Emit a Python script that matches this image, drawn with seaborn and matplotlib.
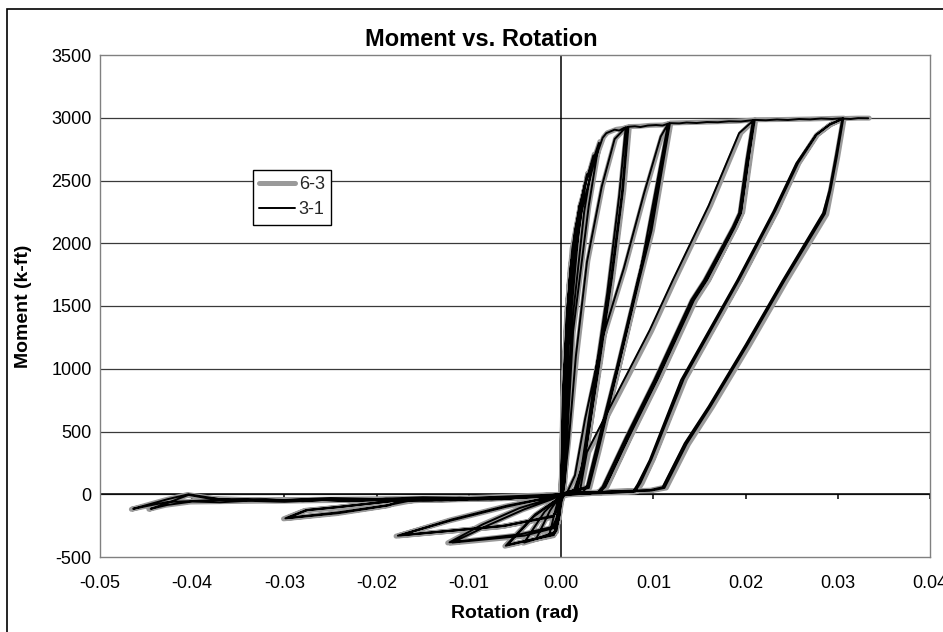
import matplotlib
matplotlib.use("Agg")
import matplotlib.pyplot as plt
from matplotlib.patches import Rectangle
import pandas as pd
import seaborn as sns

# Axis ticks
x_ticks = [-0.05, -0.04, -0.03, -0.02, -0.01, 0.00, 0.01, 0.02, 0.03, 0.04]
y_ticks = [-500, 0, 500, 1000, 1500, 2000, 2500, 3000, 3500]

# Specimen 3-1: (rotation [rad], moment [k-ft]) in loading order
path_3_1 = [
    # elastic cycles
    (0.0000, 0), (0.0002, 600), (0.0005, 1200), (0.0009, 1650), (0.0012, 1900),
    (0.0008, 1500), (0.0003, 700), (0.0000, 50),
    (-0.0002, -150), (-0.0005, -290), (-0.0013, -330), (-0.0006, -120), (-0.0003, -40), (0.0000, 0),
    (0.0002, 700), (0.0006, 1400), (0.0012, 1950), (0.0020, 2300),
    (0.0013, 1800), (0.0005, 900), (0.0001, 100),
    (-0.0002, -170), (-0.0006, -300), (-0.0027, -355), (-0.0012, -130), (-0.0004, -45), (0.0000, 10),
    (0.0002, 800), (0.0007, 1500), (0.0015, 2100), (0.0028, 2550),
    (0.0019, 2100), (0.0008, 1200), (0.0002, 100),
    (-0.0002, -180), (-0.0007, -310), (-0.0040, -385), (-0.0018, -140), (-0.0005, -48), (0.0000, 10),
    (0.0003, 900), (0.0009, 1700), (0.0020, 2300), (0.0035, 2700),
    (0.0025, 2250), (0.0011, 1300), (0.0003, 150),
    (-0.0003, -200), (-0.0008, -320), (-0.0060, -410), (-0.0028, -160), (-0.0006, -50), (0.0001, 10),
    (0.0003, 900), (0.0010, 1800), (0.0025, 2450), (0.0041, 2800),
    (0.0030, 2300), (0.0013, 1300), (0.0004, 100),
    (-0.0003, -210), (-0.0008, -325), (-0.0058, -402), (-0.0030, -180), (-0.0007, -55), (0.0002, 0),
    # first yield level
    (0.0004, 700), (0.0010, 1600), (0.0022, 2250), (0.0036, 2650), (0.0045, 2840), (0.0049, 2877),
    (0.0058, 2905), (0.0063, 2898), (0.0068, 2918), (0.0072, 2925),
    (0.0066, 2400), (0.0054, 1705), (0.0040, 1000), (0.0026, 300), (0.0018, 40),
    (0.0008, 20), (0.0000, -20), (-0.0004, -180), (-0.0008, -270), (-0.0040, -330), (-0.0118, -385),
    (-0.0080, -250), (-0.0040, -120), (-0.0010, -40), (0.0002, 0),
    (0.0008, 400), (0.0016, 1100), (0.0028, 1850), (0.0044, 2450), (0.0058, 2830), (0.0070, 2922),
    (0.0063, 2380), (0.0050, 1600), (0.0036, 900), (0.0022, 200), (0.0014, 30),
    (0.0005, 15), (-0.0001, -30), (-0.0005, -190), (-0.0009, -260), (-0.0045, -320), (-0.0121, -383),
    (-0.0085, -240), (-0.0045, -110), (-0.0012, -35), (0.0004, 5),
    # 0.01 rad level
    (0.0016, 40), (0.0026, 320), (0.0041, 1020), (0.0055, 1720), (0.0067, 2420), (0.0073, 2928),
    (0.0080, 2932), (0.0086, 2926), (0.0094, 2938), (0.0103, 2942), (0.0110, 2938), (0.0117, 2955),
    (0.0096, 2080), (0.0083, 1705), (0.0060, 1000), (0.0036, 300), (0.0028, 60),
    (0.0015, 30), (0.0003, -10), (-0.0004, -120), (-0.0008, -170), (-0.0060, -250), (-0.0177, -330),
    (-0.0120, -210), (-0.0060, -100), (-0.0015, -30), (0.0006, 5),
    (0.0015, 150), (0.0026, 600), (0.0045, 1250), (0.0068, 1800), (0.0090, 2400), (0.0108, 2850), (0.0116, 2952),
    (0.0098, 2250), (0.0086, 1780), (0.0064, 1080), (0.0040, 340), (0.0030, 50),
    (0.0012, 25), (0.0001, -15), (-0.0005, -130), (-0.0009, -180), (-0.0065, -255), (-0.0174, -326),
    (-0.0118, -200), (-0.0058, -90), (-0.0012, -25), (0.0010, 10),
    # 0.02 rad level
    (0.0024, 20), (0.0030, 80), (0.0038, 320), (0.0062, 1020), (0.0085, 1720), (0.0098, 2100), (0.0118, 2957),
    (0.0128, 2955), (0.0136, 2962), (0.0147, 2958), (0.0158, 2966), (0.0170, 2964), (0.0182, 2972),
    (0.0195, 2970), (0.0208, 2981),
    (0.0201, 2662), (0.0193, 2240), (0.0186, 2128), (0.0155, 1705), (0.0141, 1546), (0.0101, 909),
    (0.0070, 450), (0.0045, 60), (0.0039, 10),
    (0.0020, 20), (0.0000, 0), (-0.0040, -25), (-0.0065, -40), (-0.0090, -32), (-0.0115, -48), (-0.0140, -42),
    (-0.0176, -55), (-0.0187, -88), (-0.0241, -150), (-0.0299, -192),
    (-0.0277, -128), (-0.0241, -102), (-0.0176, -48), (-0.0150, -52), (-0.0120, -38), (-0.0090, -44),
    (-0.0060, -28), (-0.0010, -15), (0.0012, 5),
    (0.0020, 10), (0.0028, 335), (0.0068, 909), (0.0096, 1307), (0.0121, 1705), (0.0160, 2300), (0.0193, 2877), (0.0209, 2982),
    (0.0203, 2660), (0.0195, 2240), (0.0188, 2125), (0.0158, 1705), (0.0144, 1546), (0.0104, 909),
    (0.0073, 450), (0.0048, 60), (0.0041, 10),
    (0.0020, 15), (0.0000, -10), (-0.0050, -30), (-0.0075, -42), (-0.0100, -35), (-0.0130, -50), (-0.0160, -45),
    (-0.0190, -90), (-0.0243, -146), (-0.0296, -188),
    (-0.0275, -125), (-0.0240, -100), (-0.0178, -50), (-0.0145, -40), (-0.0120, -48), (-0.0085, -30),
    (-0.0060, -36), (0.0000, 0),
    # 0.03 rad level
    (0.0030, 5), (0.0042, 20), (0.0050, 100), (0.0073, 460), (0.0104, 920), (0.0143, 1550), (0.0158, 1715),
    (0.0188, 2135), (0.0195, 2250), (0.0203, 2670), (0.0210, 2983),
    (0.0222, 2980), (0.0234, 2986), (0.0246, 2982), (0.0258, 2990), (0.0270, 2987), (0.0282, 2994),
    (0.0294, 2990), (0.0305, 2996),
    (0.0298, 2700), (0.0291, 2423), (0.0284, 2240), (0.0240, 1700), (0.0200, 1190), (0.0160, 700),
    (0.0134, 406), (0.0110, 56), (0.0096, 32),
    (0.0060, 25), (0.0020, 10), (-0.0010, -20), (-0.0060, -30), (-0.0120, -45), (-0.0160, -32), (-0.0200, -48),
    (-0.0240, -38), (-0.0280, -55), (-0.0320, -42), (-0.0350, -50), (-0.0385, -30), (-0.0404, -5),
    (-0.0427, -70), (-0.0445, -116),
    (-0.0427, -85), (-0.0400, -58), (-0.0370, -64), (-0.0340, -52), (-0.0300, -60), (-0.0260, -46),
    (-0.0220, -54), (-0.0180, -40), (-0.0140, -48), (-0.0100, -32), (-0.0030, -20), (0.0010, 0),
    (0.0050, 10), (0.0078, 20),
    (0.0083, 80), (0.0096, 271), (0.0130, 909), (0.0191, 1705), (0.0230, 2250), (0.0255, 2636),
    (0.0276, 2862), (0.0292, 2950), (0.0306, 2995),
    (0.0299, 2690), (0.0292, 2420), (0.0286, 2235), (0.0242, 1700), (0.0202, 1190), (0.0162, 700),
    (0.0136, 400), (0.0112, 50), (0.0098, 30),
    (0.0050, 20), (0.0000, -10), (-0.0070, -35), (-0.0110, -28), (-0.0150, -45), (-0.0190, -36),
    (-0.0230, -55), (-0.0270, -40), (-0.0310, -50), (-0.0370, -40), (-0.0404, 0), (-0.0427, -40), (-0.0464, -116),
    (-0.0450, -95), (-0.0427, -62), (-0.0380, -48), (-0.0340, -38), (-0.0300, -46), (-0.0250, -30),
    (-0.0200, -38), (-0.0150, -24), (-0.0100, -30), (0.0000, 0), (0.0050, 15), (0.0080, 20),
    # final push
    (0.0086, 90), (0.0098, 280), (0.0133, 920), (0.0193, 1710), (0.0232, 2255), (0.0257, 2640),
    (0.0277, 2865), (0.0291, 2945), (0.0306, 2993), (0.0314, 2990), (0.0322, 2997), (0.0333, 2996),
]

# Specimen 6-3: (rotation [rad], moment [k-ft]) in loading order
path_6_3 = [
    # elastic cycles
    (0.0000, 0), (0.0002, 620), (0.0005, 1220), (0.0009, 1670), (0.0013, 1920),
    (0.0008, 1480), (0.0003, 680), (0.0000, 40),
    (-0.0002, -160), (-0.0005, -300), (-0.0014, -335), (-0.0006, -125), (-0.0003, -40), (0.0000, 0),
    (0.0002, 720), (0.0006, 1420), (0.0012, 1960), (0.0021, 2310),
    (0.0013, 1790), (0.0005, 880), (0.0001, 90),
    (-0.0002, -180), (-0.0006, -305), (-0.0028, -360), (-0.0012, -135), (-0.0004, -45), (0.0000, 10),
    (0.0002, 820), (0.0007, 1520), (0.0016, 2110), (0.0029, 2560),
    (0.0019, 2090), (0.0008, 1180), (0.0002, 90),
    (-0.0002, -190), (-0.0007, -315), (-0.0041, -390), (-0.0018, -145), (-0.0005, -48), (0.0000, 10),
    (0.0003, 920), (0.0009, 1710), (0.0021, 2310), (0.0036, 2710),
    (0.0025, 2240), (0.0011, 1280), (0.0003, 140),
    (-0.0003, -210), (-0.0008, -325), (-0.0061, -414), (-0.0028, -165), (-0.0006, -50), (0.0001, 10),
    (0.0003, 910), (0.0010, 1810), (0.0026, 2460), (0.0042, 2810),
    (0.0030, 2290), (0.0013, 1280), (0.0004, 90),
    (-0.0003, -215), (-0.0008, -330), (-0.0059, -406), (-0.0030, -185), (-0.0007, -55), (0.0002, 0),
    # first yield level
    (0.0004, 690), (0.0010, 1590), (0.0023, 2260), (0.0037, 2660), (0.0046, 2845), (0.0050, 2880),
    (0.0060, 2908), (0.0067, 2915), (0.0073, 2927),
    (0.0067, 2410), (0.0055, 1710), (0.0041, 1000), (0.0027, 300), (0.0019, 40),
    (0.0008, 20), (0.0000, -25), (-0.0004, -185), (-0.0008, -275), (-0.0042, -335), (-0.0120, -390),
    (-0.0082, -255), (-0.0042, -125), (-0.0010, -40), (0.0002, 0),
    (0.0008, 410), (0.0017, 1110), (0.0029, 1860), (0.0045, 2460), (0.0059, 2835), (0.0071, 2924),
    (0.0064, 2390), (0.0051, 1610), (0.0037, 905), (0.0023, 205), (0.0015, 30),
    (0.0005, 15), (-0.0001, -30), (-0.0005, -195), (-0.0009, -265), (-0.0046, -325), (-0.0123, -388),
    (-0.0087, -245), (-0.0046, -115), (-0.0012, -35), (0.0004, 5),
    # 0.01 rad level
    (0.0017, 40), (0.0027, 320), (0.0042, 1020), (0.0056, 1720), (0.0068, 2420), (0.0074, 2930),
    (0.0085, 2932), (0.0097, 2940), (0.0110, 2942), (0.0118, 2956),
    (0.0097, 2085), (0.0084, 1705), (0.0061, 1000), (0.0037, 300), (0.0029, 60),
    (0.0015, 30), (0.0003, -10), (-0.0004, -125), (-0.0008, -175), (-0.0062, -255), (-0.0179, -334),
    (-0.0122, -214), (-0.0062, -104), (-0.0015, -30), (0.0006, 5),
    (0.0016, 150), (0.0027, 600), (0.0046, 1250), (0.0069, 1800), (0.0091, 2400), (0.0109, 2850), (0.0117, 2953),
    (0.0099, 2250), (0.0087, 1780), (0.0065, 1080), (0.0041, 340), (0.0031, 50),
    (0.0012, 25), (0.0001, -15), (-0.0005, -135), (-0.0009, -185), (-0.0067, -260), (-0.0176, -330),
    (-0.0120, -204), (-0.0060, -94), (-0.0012, -25), (0.0010, 10),
    # 0.02 rad level
    (0.0025, 20), (0.0031, 80), (0.0039, 320), (0.0063, 1020), (0.0086, 1720), (0.0099, 2100), (0.0119, 2958),
    (0.0140, 2962), (0.0165, 2966), (0.0190, 2972), (0.0209, 2982),
    (0.0202, 2662), (0.0194, 2240), (0.0187, 2128), (0.0156, 1705), (0.0142, 1546), (0.0102, 909),
    (0.0071, 450), (0.0046, 60), (0.0040, 10),
    (0.0020, 20), (0.0000, 0), (-0.0050, -30), (-0.0100, -40), (-0.0140, -45), (-0.0176, -58),
    (-0.0188, -92), (-0.0243, -154), (-0.0301, -196),
    (-0.0279, -132), (-0.0243, -106), (-0.0178, -52), (-0.0120, -40), (-0.0060, -30), (-0.0010, -15), (0.0012, 5),
    (0.0021, 10), (0.0030, 335), (0.0070, 900), (0.0098, 1300), (0.0123, 1700), (0.0162, 2300), (0.0195, 2878), (0.0210, 2983),
    (0.0204, 2660), (0.0196, 2240), (0.0189, 2125), (0.0160, 1705), (0.0146, 1546), (0.0106, 909),
    (0.0075, 450), (0.0050, 60), (0.0043, 10),
    (0.0020, 15), (0.0000, -10), (-0.0060, -35), (-0.0120, -45), (-0.0160, -50), (-0.0192, -94),
    (-0.0245, -150), (-0.0298, -192),
    (-0.0277, -128), (-0.0242, -104), (-0.0180, -54), (-0.0120, -42), (-0.0060, -30), (0.0000, 0),
    # 0.03 rad level
    (0.0031, 5), (0.0043, 20), (0.0052, 100), (0.0075, 460), (0.0106, 920), (0.0145, 1550), (0.0160, 1715),
    (0.0190, 2135), (0.0197, 2250), (0.0205, 2670), (0.0211, 2984),
    (0.0240, 2986), (0.0270, 2990), (0.0306, 2997),
    (0.0299, 2700), (0.0292, 2420), (0.0286, 2230), (0.0242, 1690), (0.0202, 1180), (0.0162, 690),
    (0.0136, 400), (0.0112, 56), (0.0097, 32),
    (0.0060, 25), (0.0020, 10), (-0.0010, -20), (-0.0080, -35), (-0.0160, -40), (-0.0240, -45),
    (-0.0320, -48), (-0.0385, -32), (-0.0405, -8), (-0.0429, -74), (-0.0447, -120),
    (-0.0429, -88), (-0.0402, -62), (-0.0340, -56), (-0.0260, -50), (-0.0180, -44), (-0.0100, -34),
    (-0.0030, -20), (0.0010, 0), (0.0050, 10), (0.0080, 20),
    (0.0086, 80), (0.0099, 271), (0.0133, 909), (0.0194, 1705), (0.0233, 2250), (0.0257, 2636),
    (0.0277, 2862), (0.0293, 2950), (0.0307, 2996),
    (0.0300, 2690), (0.0293, 2420), (0.0288, 2230), (0.0244, 1695), (0.0204, 1185), (0.0164, 695),
    (0.0138, 398), (0.0114, 50), (0.0099, 30),
    (0.0050, 20), (0.0000, -10), (-0.0080, -38), (-0.0160, -44), (-0.0240, -50), (-0.0310, -52),
    (-0.0370, -42), (-0.0405, -2), (-0.0429, -44), (-0.0466, -120),
    (-0.0452, -98), (-0.0429, -66), (-0.0380, -50), (-0.0300, -44), (-0.0200, -36), (-0.0100, -28),
    (0.0000, 0), (0.0050, 15), (0.0082, 20),
    # final push
    (0.0088, 90), (0.0100, 280), (0.0135, 920), (0.0195, 1710), (0.0234, 2255), (0.0258, 2640),
    (0.0278, 2865), (0.0292, 2945), (0.0307, 2994), (0.0322, 2997), (0.0334, 2997),
]

frames = []
for name, path in (("6-3", path_6_3), ("3-1", path_3_1)):
    df = pd.DataFrame(path, columns=["rotation", "moment"])
    df["specimen"] = name
    frames.append(df)
data = pd.concat(frames, ignore_index=True)

sns.set_theme(style="white")
plt.rcParams["font.family"] = ["Liberation Sans", "DejaVu Sans"]

fig, ax = plt.subplots(figsize=(9.43, 6.32), dpi=100)
fig.subplots_adjust(left=100 / 943, right=930 / 943, top=1 - 55 / 632, bottom=1 - 557 / 632)

# grid and axis lines through the origin
for y in y_ticks[1:-1]:
    ax.axhline(y, color="#3a3a3a", lw=0.9, zorder=1)
ax.axhline(0, color="black", lw=1.1, zorder=1.5)
ax.axvline(0, color="black", lw=1.1, zorder=1.5)
ax.vlines(x_ticks[1:], 0, -40, color="black", lw=1.1, zorder=1.5)

sns.lineplot(data=data[data["specimen"] == "6-3"], x="rotation", y="moment", sort=False,
             estimator=None, color="#9a9a9a", lw=3.6, ax=ax, label="6-3", zorder=3)
sns.lineplot(data=data[data["specimen"] == "3-1"], x="rotation", y="moment", sort=False,
             estimator=None, color="black", lw=1.4, ax=ax, label="3-1", zorder=4)

ax.set_xlim(-0.05, 0.04)
ax.set_ylim(-500, 3500)
ax.set_xticks(x_ticks)
ax.set_xticklabels([f"{t:.2f}" for t in x_ticks])
ax.set_yticks(y_ticks)
ax.set_yticklabels([str(t) for t in y_ticks])
ax.tick_params(axis="x", length=0, pad=13, labelsize=13, colors="black")
ax.tick_params(axis="y", length=0, pad=6, labelsize=13, colors="black")
for sp in ax.spines.values():
    sp.set_color("#808080")
    sp.set_linewidth(1.0)
    sp.set_visible(True)

ax.set_xlabel("Rotation (rad)", fontsize=14, fontweight="bold", color="black")
ax.set_ylabel("Moment (k-ft)", fontsize=14, fontweight="bold", color="black")
ax.xaxis.set_label_coords(0.5, (557 - 613) / 502)
ax.xaxis.label.set_va("center")
ax.yaxis.set_label_coords((24 - 100) / 830, 0.5)
ax.yaxis.label.set_va("center")

fig.text(481 / 943, 1 - 40 / 632, "Moment vs. Rotation", ha="center", va="center",
         fontsize=17, fontweight="bold", color="black")

leg = ax.legend(loc="upper left", bbox_to_anchor=(0.184, 0.771), frameon=True, fancybox=False,
                edgecolor="black", framealpha=1, borderaxespad=0, handlelength=2.0,
                fontsize=13, borderpad=0.35, labelspacing=0.45, handletextpad=0.2)
leg.get_frame().set_linewidth(1.0)

# outer chart frame
fig.add_artist(Rectangle((7 / 943, -0.05), 1.2, 1 - 9 / 632 + 0.05, transform=fig.transFigure,
                         fill=False, ec="black", lw=1.2))

fig.savefig("out.png", dpi=100)
